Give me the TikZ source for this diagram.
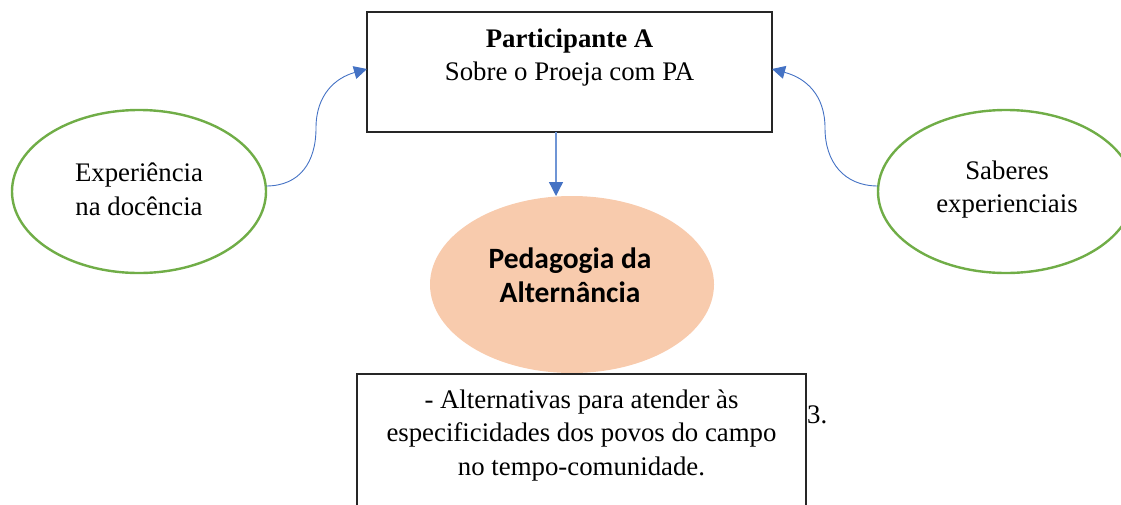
\documentclass[tikz,border=0pt]{standalone}
\usepackage{fontspec}
\setmainfont{Liberation Serif}
\newfontfamily\calibfont{Carlito}
\usetikzlibrary{arrows.meta,shapes.geometric}
\definecolor{grn}{HTML}{70AD47}
\definecolor{blu}{HTML}{4472C4}
\definecolor{blul}{HTML}{6F95D5}
\definecolor{org}{HTML}{F8CBAD}
\tikzset{
  boxshape/.style={draw=black!85,line width=1.3pt,rectangle,inner sep=0pt},
  greenell/.style={draw=grn,line width=2.4pt,ellipse,inner sep=0pt},
  txt/.style={align=center,inner sep=0pt,font=\fontsize{26.8}{33.5}\selectfont},
  conn/.style={draw=blu,line width=0.9pt,-{Triangle[length=13pt,width=13pt]}},
  connd/.style={draw=blul,line width=1.3pt,-{Triangle[length=14pt,width=14pt,color=blu]}}
}
\begin{document}
\begin{tikzpicture}[x=1pt,y=-1pt]
\useasboundingbox (0,0) rectangle (1121,504);
% main box
\node[boxshape,minimum width=405pt,minimum height=120pt] (A) at (569.5,72) {};
\node[txt] (Atxt) at (569.5,57.5) {\textbf{Participante A}\\Sobre o Proeja com PA};
% side ellipses
\node[greenell,minimum width=254pt,minimum height=163pt] (L) at (139,191.5) {};
\node[txt] (Ltxt) at (139,189.5) {Experiência\\na docência};
\node[greenell,minimum width=256pt,minimum height=163pt] (R) at (1006,191.5) {};
\node[txt] (Rtxt) at (1007,189.5) {Saberes\\experienciais};
% orange ellipse
\node[ellipse,fill=org,minimum width=284pt,minimum height=177pt,inner sep=0pt] (P) at (572,284.5) {};
\node[align=center,inner sep=0pt,font=\calibfont\bfseries\fontsize{29.5}{34}\selectfont] (Ptxt) at (570,275.5) {Pedagogia da\\Alternância};
% bottom box
\node[boxshape,minimum width=449pt,minimum height=150pt] (B) at (581.5,449) {};
\node[txt] (Btxt) at (581.5,435.5) {- Alternativas para atender às\\especificidades dos povos do campo\\no tempo-comunidade.};
\node[anchor=base west,inner sep=0pt,font=\fontsize{26.8}{33}\selectfont] (three) at (807,423) {3.};
% connectors
\coordinate (Lout) at (266,186);
\coordinate (Lin) at (367,69);
\coordinate (Rout) at (878,186);
\coordinate (Rin) at (772,69);
\draw[conn] (Lout) .. controls (300,186) and (316,162) .. (316,128) .. controls (316,95) and (335,78) .. (Lin);
\draw[conn] (Rout) .. controls (844,186) and (825,162) .. (825,128) .. controls (825,95) and (806,78) .. (Rin);
\draw[connd] (556,132) -- (556,196);
\end{tikzpicture}
\end{document}
